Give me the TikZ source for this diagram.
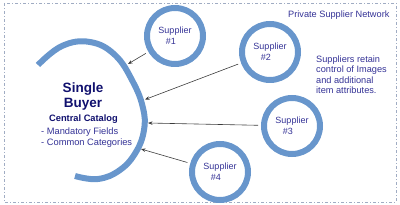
\documentclass[tikz,border=0pt]{standalone}
\usepackage{fontspec}
\setmainfont{Liberation Sans}
\usetikzlibrary{arrows.meta}
\definecolor{ringblue}{RGB}{104,150,204}
\definecolor{navy}{RGB}{16,16,110}
\definecolor{labelblue}{RGB}{52,50,150}
\definecolor{linegrey}{RGB}{60,60,60}
\definecolor{framegrey}{RGB}{160,172,195}
\tikzset{
  ring/.style={circle, draw=ringblue, line width=6pt, minimum size=56pt, inner sep=0pt,
    align=center, text=labelblue, font=\fontsize{9}{11}\selectfont},
  bigarc/.style={draw=ringblue, line width=6pt, line cap=butt},
  feed/.style={draw=linegrey, line width=0.6pt, -{Stealth[length=4.5pt,width=3.5pt]}, shorten <=3pt},
  frame/.style={draw=framegrey, line width=0.8pt, dash pattern=on 3pt off 2pt on 1pt off 2pt},
  plain/.style={inner sep=0pt, text=labelblue, font=\fontsize{9.2}{10.5}\selectfont}
}
\begin{document}
\begin{tikzpicture}[x=1pt,y=-1pt]
\useasboundingbox (0,0) rectangle (400,205);
\draw[frame] (4,3) rectangle (396,202);
% central buyer arc
\draw[bigarc] plot[smooth, tension=0.7] coordinates {(38,65) (62,46) (90,42) (115,55) (133,82) (143,108) (144,130) (136,152) (120,170) (98,179) (75,176)};
% buyer texts
\node[inner sep=0pt, anchor=north, align=center, text=navy, font=\fontsize{13.5}{15}\selectfont\bfseries] (buyer) at (83,83) {Single\\Buyer};
\node[inner sep=0pt, anchor=base, text=navy, font=\fontsize{9.3}{10.5}\selectfont\bfseries] (catalog) at (83.5,122) {Central Catalog};
\node[plain, anchor=north west, align=left, font=\fontsize{9.3}{10.5}\selectfont] (fields) at (41,128) {- Mandatory Fields\\- Common Categories};
% suppliers
\node[ring] (s1) at (175,36) {Supplier\\\#1\kern8pt};
\node[ring] (s2) at (270,52) {Supplier\\\#2\kern8pt};
\node[ring] (s3) at (292,126) {Supplier\\\#3\kern8pt};
\node[ring] (s4) at (220,172) {Supplier\\\#4\kern8pt};
% arrow targets on the arc
\coordinate (a1) at (128,64);
\coordinate (a2) at (145,99.5);
\coordinate (a3) at (148,123);
\coordinate (a4) at (141,149);
\draw[feed] (s1) -- (a1);
\draw[feed] (s2) -- (a2);
\draw[feed] (s3) -- (a3);
\draw[feed] (s4) -- (a4);
% side texts
\node[plain, anchor=base west] (network) at (288,17.5) {Private Supplier Network};
\node[plain, anchor=north west, align=left] (note) at (316,55.5) {Suppliers retain\\control of Images\\and additional\\item attributes.};
\end{tikzpicture}
\end{document}
